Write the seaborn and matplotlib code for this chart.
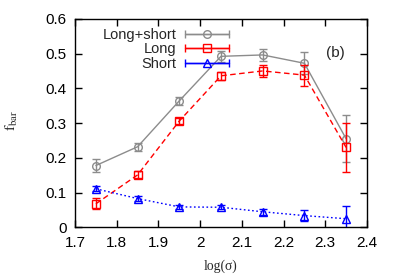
import numpy as np
import pandas as pd
import seaborn as sns
import matplotlib.pyplot as plt
from matplotlib.container import ErrorbarContainer
from matplotlib.legend_handler import HandlerErrorbar

# values
log_sigma = [1.75, 1.85, 1.95, 2.05, 2.15, 2.25, 2.35]
both_f = [0.178, 0.232, 0.364, 0.492, 0.496, 0.472, 0.255]
both_err = [0.018, 0.012, 0.012, 0.016, 0.018, 0.032, 0.068]
long_f = [0.068, 0.151, 0.306, 0.436, 0.450, 0.438, 0.230]
long_err = [0.016, 0.010, 0.010, 0.012, 0.018, 0.030, 0.070]
short_f = [0.111, 0.083, 0.059, 0.058, 0.045, 0.034, 0.025]
short_err = [0.007, 0.006, 0.005, 0.006, 0.008, 0.016, 0.036]

series = [
    ("Long+short", both_f, both_err, "#8c8c8c", "o", "-"),
    ("Long", long_f, long_err, "#ff0000", "s", (0, (4, 2.5))),
    ("Short", short_f, short_err, "#0000ff", "^", (0, (1.2, 1.8))),
]

sns.set_style("ticks")
plt.rcParams["font.family"] = ["Liberation Sans", "DejaVu Sans"]
plt.rcParams["mathtext.fontset"] = "stix"
plt.rcParams["font.size"] = 11

fig = plt.figure(figsize=(3.95, 2.76), dpi=100)
ax = fig.add_axes([0.19, 0.176, 0.739, 0.756])

handles = []
for label, f, err, col, mk, ls in series:
    df = pd.DataFrame({"x": log_sigma, "y": f})
    sns.lineplot(data=df, x="x", y="y", ax=ax, color=col, linestyle=ls,
                 linewidth=1.0, marker=mk, markersize=5.5,
                 markerfacecolor="none", markeredgecolor=col,
                 markeredgewidth=1.0, errorbar=None)
    ax.errorbar(log_sigma, f, yerr=err, fmt="none", ecolor=col,
                elinewidth=1.0, capsize=3, capthick=1.0)
    h = ax.errorbar([np.nan], [np.nan], xerr=[0.01], fmt=mk + "-",
                    color=col, mfc="none", mec=col, mew=1.0, ms=5.5,
                    lw=1.0, capsize=3, capthick=1.0, label=label)
    handles.append(h)

ax.set_xlim(1.7, 2.4)
ax.set_ylim(0, 0.6)
ax.set_xticks(np.arange(1.7, 2.41, 0.1))
ax.set_yticks(np.arange(0, 0.61, 0.1))
ax.set_xticklabels(["1.7", "1.8", "1.9", "2", "2.1", "2.2", "2.3", "2.4"])
ax.set_yticklabels(["0", "0.1", "0.2", "0.3", "0.4", "0.5", "0.6"])
ax.tick_params(direction="in", length=5, width=1, top=True, right=True,
               labelsize=11, pad=6, color="black", labelcolor="black")
for sp in ax.spines.values():
    sp.set_visible(True)
    sp.set_linewidth(1.0)
    sp.set_color("black")

ax.set_xlabel("log(σ)", family="Liberation Serif", fontsize=9.8)
ax.xaxis.set_label_coords(0.5, -0.155)
ax.set_ylabel(r"$\mathrm{f}_{\mathrm{bar}}$", fontsize=11)
ax.yaxis.set_label_coords(-0.188, 0.514)
ax.text(0.86, 0.835, "(b)", transform=ax.transAxes, fontsize=11,
        va="center")

leg = ax.legend(handles=handles, loc="upper right",
                bbox_to_anchor=(0.527, 0.955), frameon=False,
                markerfirst=False, handlelength=3.0, handletextpad=0.6,
                labelspacing=0.02, fontsize=10.5, borderpad=0,
                borderaxespad=0,
                handler_map={ErrorbarContainer: HandlerErrorbar(xerr_size=1.5)})
for t in leg.get_texts():
    t.set_ha("right")

fig.savefig("out.png", dpi=100)
